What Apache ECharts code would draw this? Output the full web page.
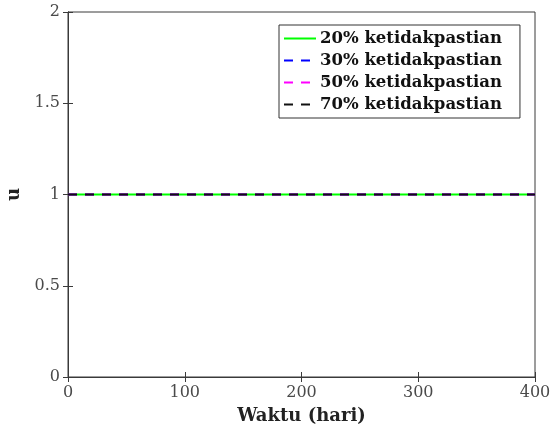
<!DOCTYPE html>
<html><head><meta charset="utf-8">
<script src="https://cdn.jsdelivr.net/npm/echarts@6/dist/echarts.min.js"></script>
<style>html,body{margin:0;padding:0;background:#fff}#c{width:558px;height:434px}</style>
</head><body><div id="c"></div>
<script>
var time = [0, 400];
var u20 = [1, 1];
var u30 = [1, 1];
var u50 = [1, 1];
var u70 = [1, 1];
var seriesNames = ['20% ketidakpastian', '30% ketidakpastian', '50% ketidakpastian', '70% ketidakpastian'];
var xTicks = [0, 100, 200, 300, 400];
var yTicks = [0, 0.5, 1, 1.5, 2];

function pts(v){ return time.map(function(t,i){ return [t, v[i]]; }); }
var axisCol = '#3a3a3a';
var tickFont = {fontFamily:'DejaVu Serif', fontSize:16, color:'#4a4a4a'};
var chart = echarts.init(document.getElementById('c'), null, {renderer:'canvas'});
chart.setOption({
  animation:false,
  grid:{left:68, right:23, top:12, bottom:57, outerBoundsMode:'none', containLabel:false, show:true, borderColor:axisCol, borderWidth:1},
  legend:{
    orient:'vertical', left:279, top:25, itemWidth:32, itemHeight:12, itemGap:5,
    padding:[5,18,5,4], borderColor:'#333', borderWidth:1, backgroundColor:'#fff',
    itemStyle:{opacity:0},
    textStyle:{fontFamily:'DejaVu Serif', fontWeight:'bold', fontSize:16.5, color:'#111', padding:[0,0,0,-1]},
    data:seriesNames
  },
  xAxis:[{
    type:'value', min:0, max:400, interval:100,
    name:'Waktu (hari)', nameLocation:'middle', nameGap:30,
    nameTextStyle:{fontFamily:'DejaVu Serif', fontWeight:'bold', fontSize:18, color:'#222'},
    axisLine:{show:true, lineStyle:{color:axisCol}},
    axisTick:{show:true, inside:true, length:5, lineStyle:{color:axisCol}},
    axisLabel:Object.assign({margin:8}, tickFont),
    splitLine:{show:false}
  },{
    type:'value', min:0, max:400, interval:100, position:'top',
    axisLine:{show:true, lineStyle:{color:axisCol}},
    axisTick:{show:true, inside:true, length:5, lineStyle:{color:axisCol}},
    axisLabel:{show:false}, splitLine:{show:false}
  }],
  yAxis:[{
    type:'value', min:0, max:2, interval:0.5,
    name:'u', nameLocation:'middle', nameGap:42, nameRotate:90,
    nameTextStyle:{fontFamily:'DejaVu Serif', fontWeight:'bold', fontSize:18, color:'#222'},
    axisLine:{show:true, lineStyle:{color:axisCol}},
    axisTick:{show:true, inside:true, length:5, lineStyle:{color:axisCol}},
    axisLabel:Object.assign({margin:8}, tickFont),
    splitLine:{show:false}
  },{
    type:'value', min:0, max:2, interval:0.5, position:'right',
    axisLine:{show:true, lineStyle:{color:axisCol}},
    axisTick:{show:true, inside:true, length:5, lineStyle:{color:axisCol}},
    axisLabel:{show:false}, splitLine:{show:false}
  }],
  series:[
    {name:seriesNames[0], type:'line', data:pts(u20), symbol:'none', lineStyle:{color:'#00ff00', width:2, type:'solid'}, itemStyle:{color:'#00ff00'}},
    {name:seriesNames[1], type:'line', data:pts(u30), symbol:'none', lineStyle:{color:'#0000ff', width:2, type:[9,8]}, itemStyle:{color:'#0000ff'}},
    {name:seriesNames[2], type:'line', data:pts(u50), symbol:'none', lineStyle:{color:'#ff00ff', width:2, type:[9,8]}, itemStyle:{color:'#ff00ff'}},
    {name:seriesNames[3], type:'line', data:pts(u70), symbol:'none', lineStyle:{color:'#111111', width:2, type:[9,8]}, itemStyle:{color:'#111111'}}
  ]
});
</script></body></html>
